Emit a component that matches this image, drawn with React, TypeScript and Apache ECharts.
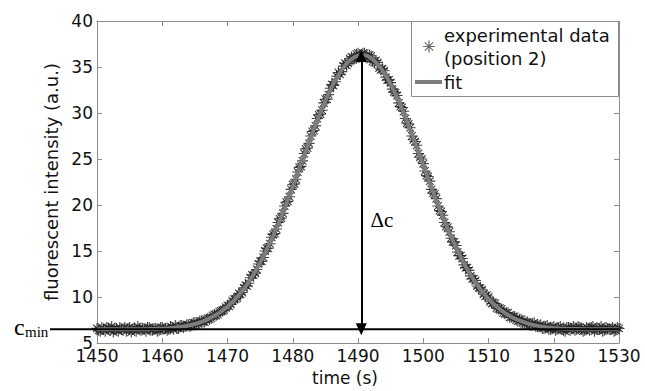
import React, { useEffect, useRef } from "react";
import * as echarts from "echarts";

// ---- axis ----
const X_MIN = 1450;
const X_MAX = 1530;
const X_STEP = 10;
const Y_MIN = 5;
const Y_MAX = 40;
const Y_STEP = 5;

// ---- experimental data, part A (every 0.5 s starting at 1450 s) ----
const EXP_A_T0 = 1450;
const EXP_DT = 0.5;
const EXP_A_VALUES = [
  6.6, 6.3, 6.5, 6.7, 6.4, 6.2, 6.6, 6.7, 6.4, 6.3,
  6.7, 6.5, 6.3, 6.6, 6.6, 6.3, 6.7, 6.4, 6.6, 6.4,
  6.7, 6.6, 6.5, 6.7, 6.9, 6.6, 6.9, 6.8, 7.0, 6.9,
  7.2, 7.1, 7.4, 7.3, 7.7, 7.7, 8.1, 8.1, 8.5, 8.6,
  9.1, 9.2, 9.8, 9.9, 10.3, 11.0, 11.2, 12.1, 12.4, 13.0,
  13.9, 14.3, 15.3, 15.8, 16.8, 17.4, 18.5, 19.1, 20.3, 20.9,
  22.2, 22.8, 24.1, 24.8, 26.1, 26.7, 28.0, 28.6, 29.8, 30.3,
  31.5, 32.0, 33.1, 33.4, 34.4, 34.5, 35.4, 35.4, 36.1, 35.9,
  36.5, 36.1, 36.5, 36.0, 36.2, 35.5, 35.5, 34.7, 34.6, 33.6,
  33.3, 32.3, 31.9, 30.7, 30.2, 28.9, 28.4, 27.1, 26.5, 25.2,
  24.5, 23.2, 22.6, 21.3, 20.7, 19.4, 18.9, 17.7, 17.1, 16.0,
  15.6, 14.5, 14.2, 13.2, 12.9, 12.0, 11.8, 11.0, 10.8, 10.1,
  10.0, 9.3, 9.3, 8.7, 8.7, 8.2, 8.3, 7.8, 7.9, 7.4,
  7.6, 7.1, 7.3, 6.9, 7.2, 6.8, 7.0, 6.6, 6.9, 6.5,
  6.8, 6.5, 6.8, 6.4, 6.7, 6.4, 6.8, 6.5, 6.7, 6.3,
  6.7, 6.4, 6.8, 6.5, 6.6, 6.3, 6.7, 6.5, 6.7, 6.4,
  6.6,
];

// ---- experimental data, part B (every 0.5 s starting at 1450.25 s) ----
const EXP_B_T0 = 1450.25;
const EXP_B_VALUES = [
  6.4, 6.7, 6.3, 6.6, 6.8, 6.5, 6.3, 6.5, 6.7, 6.6,
  6.2, 6.6, 6.8, 6.4, 6.5, 6.7, 6.4, 6.6, 6.3, 6.7,
  6.5, 6.4, 6.8, 6.5, 6.6, 6.9, 6.7, 7.0, 6.8, 7.2,
  7.0, 7.4, 7.3, 7.6, 7.6, 8.0, 8.0, 8.4, 8.5, 8.9,
  9.0, 9.6, 9.8, 10.4, 10.5, 11.3, 11.5, 12.4, 12.6, 13.6,
  13.9, 15.0, 15.3, 16.5, 16.9, 18.1, 18.6, 19.9, 20.4, 21.7,
  22.3, 23.6, 24.2, 25.6, 26.2, 27.5, 28.1, 29.4, 29.9, 31.1,
  31.5, 32.7, 33.0, 34.0, 34.2, 35.1, 35.2, 35.9, 35.8, 36.4,
  36.1, 36.5, 36.0, 36.3, 35.6, 35.7, 34.9, 34.8, 33.9, 33.6,
  32.6, 32.2, 31.1, 30.6, 29.4, 28.8, 27.5, 26.9, 25.6, 25.0,
  23.7, 23.1, 21.7, 21.2, 19.9, 19.3, 18.1, 17.6, 16.4, 16.0,
  14.9, 14.5, 13.5, 13.2, 12.3, 12.0, 11.2, 11.0, 10.3, 10.2,
  9.5, 9.4, 8.8, 8.8, 8.3, 8.3, 7.8, 7.9, 7.5, 7.6,
  7.2, 7.3, 7.0, 7.1, 6.8, 6.9, 6.6, 6.8, 6.5, 6.7,
  6.4, 6.7, 6.5, 6.3, 6.7, 6.6, 6.4, 6.8, 6.5, 6.4,
  6.6, 6.7, 6.3, 6.5, 6.8, 6.4, 6.6, 6.5, 6.3, 6.7,
];

// ---- fitted curve (every 1 s starting at 1450 s) ----
const FIT_T0 = 1450;
const FIT_DT = 1;
const FIT_VALUES = [
  6.50, 6.50, 6.50, 6.50, 6.50, 6.50, 6.50, 6.50, 6.52, 6.54,
  6.57, 6.62, 6.69, 6.78, 6.91, 7.08, 7.31, 7.60, 7.96, 8.41,
  8.97, 9.65, 10.44, 11.39, 12.48, 13.73, 15.13, 16.67, 18.33, 20.13,
  22.00, 23.94, 25.89, 27.80, 29.64, 31.34, 32.86, 34.14, 35.16, 35.85,
  36.24, 36.27, 35.97, 35.31, 34.36, 33.13, 31.67, 30.00, 28.19, 26.28,
  24.34, 22.40, 20.51, 18.69, 16.98, 15.42, 13.99, 12.72, 11.60, 10.63,
  9.81, 9.12, 8.54, 8.06, 7.68, 7.38, 7.13, 6.95, 6.80, 6.70,
  6.63, 6.58, 6.55, 6.53, 6.52, 6.51, 6.50, 6.50, 6.50, 6.50,
  6.50,
];

// ---- annotations ----
const C_MIN = 6.5;
const PEAK_T = 1490.5;
const PEAK_V = 36.2;
const DELTA_LABEL_AT = [1491.9, 18.4];

const LEGEND_LABELS = ["experimental data", "(position 2)", "fit"];

const STAR_PATH =
  "M9,0L11,0L11,20L9,20Z M0,9L20,9L20,11L0,11Z M3.7,2.3L17.7,16.3L16.3,17.7L2.3,3.7Z M17.7,3.7L3.7,17.7L2.3,16.3L16.3,2.3Z";

let registered = false;
function ensureShape() {
  if (registered) return;
  echarts.graphic.registerShape("asterisk", echarts.graphic.extendPath(STAR_PATH, {}) as any);
  registered = true;
}

const SANS = "DejaVu Sans";
const SERIF = "Liberation Serif";
const AXIS_GRAY = "#8c8c8c";

export default function App() {
  const ref = useRef<HTMLDivElement>(null);

  useEffect(() => {
    if (!ref.current) return;
    ensureShape();
    const chart = echarts.init(ref.current, null, { renderer: "svg" });

    const expData = [
      ...EXP_A_VALUES.map((v, i) => [EXP_A_T0 + i * EXP_DT, v]),
      ...EXP_B_VALUES.map((v, i) => [EXP_B_T0 + i * EXP_DT, v]),
    ];
    const fitData = FIT_VALUES.map((v, i) => [FIT_T0 + i * FIT_DT, v]);

    const axisCommon = {
      axisLine: { show: true, lineStyle: { color: AXIS_GRAY, width: 1 } },
      axisTick: { show: true, inside: true, length: 5, lineStyle: { color: AXIS_GRAY } },
      splitLine: { show: false },
    };

    const option: any = {
      animation: false,
      backgroundColor: "#ffffff",
      grid: { left: 97, right: 26, top: 21, bottom: 45, containLabel: false },
      xAxis: [
        {
          type: "value",
          min: X_MIN,
          max: X_MAX,
          interval: X_STEP,
          position: "bottom",
          ...axisCommon,
          axisLabel: {
            color: "#111",
            fontFamily: SANS,
            fontSize: 17,
            margin: 4,
            formatter: (v: number) => String(v),
          },
          name: "time (s)",
          nameLocation: "middle",
          nameGap: 23,
          nameTextStyle: { color: "#111", fontFamily: SANS, fontSize: 17, padding: [0, 26, 0, 0] },
        },
        {
          type: "value",
          min: X_MIN,
          max: X_MAX,
          interval: X_STEP,
          position: "top",
          ...axisCommon,
          axisLabel: { show: false },
        },
      ],
      yAxis: [
        {
          type: "value",
          min: Y_MIN,
          max: Y_MAX,
          interval: Y_STEP,
          position: "left",
          ...axisCommon,
          axisLabel: { color: "#111", fontFamily: SANS, fontSize: 17, margin: 4 },
          name: "fluorescent intensity (a.u.)",
          nameLocation: "middle",
          nameGap: 24,
          nameTextStyle: { color: "#111", fontFamily: SANS, fontSize: 18 },
        },
        {
          type: "value",
          min: Y_MIN,
          max: Y_MAX,
          interval: Y_STEP,
          position: "right",
          ...axisCommon,
          axisLabel: { show: false },
        },
      ],
      series: [
        {
          name: "experimental data (position 2)",
          type: "scatter",
          data: expData,
          symbol: "path://" + STAR_PATH,
          symbolSize: 11,
          itemStyle: { color: "#1e1e1e", opacity: 0.85 },
          z: 2,
        },
        {
          name: "fit",
          type: "line",
          data: fitData,
          symbol: "none",
          smooth: 0.2,
          lineStyle: { color: "#7d7d7d", width: 4 },
          z: 3,
          markLine: {
            silent: true,
            symbol: ["triangle", "triangle"],
            symbolSize: [11, 12],
            label: { show: false },
            lineStyle: { color: "#000", width: 2, type: "solid" },
            data: [
              [
                { coord: [PEAK_T, C_MIN] },
                { coord: [PEAK_T, PEAK_V] },
              ],
            ],
            z: 5,
          },
        },
      ],
    };

    chart.setOption(option);

    const [xRight, yC] = chart.convertToPixel({ gridIndex: 0 }, [X_MAX, C_MIN]) as number[];
    const [xD, yD] = chart.convertToPixel({ gridIndex: 0 }, DELTA_LABEL_AT) as number[];

    chart.setOption({
      graphic: [
        {
          type: "line",
          shape: { x1: 50, y1: yC, x2: xRight, y2: yC },
          style: { stroke: "#000", lineWidth: 2 },
          z: 50,
        },
        {
          type: "text",
          x: 14,
          y: yC - 2,
          style: { text: "c", fontFamily: SERIF, fontSize: 24, fill: "#000", verticalAlign: "middle" },
          z: 50,
        },
        {
          type: "text",
          x: 25,
          y: yC + 3,
          style: { text: "min", fontFamily: SERIF, fontSize: 15, fill: "#000", verticalAlign: "middle" },
          z: 50,
        },
        {
          type: "text",
          x: xD,
          y: yD,
          style: { text: "\u0394c", fontFamily: SERIF, fontSize: 21, fill: "#000", verticalAlign: "middle" },
          z: 50,
        },
        // legend box
        {
          type: "rect",
          shape: { x: 411.5, y: 21.5, width: 207, height: 75 },
          style: { fill: "#fff", stroke: AXIS_GRAY, lineWidth: 1 },
          z: 100,
        },
        {
          type: "asterisk",
          x: 423,
          y: 40.5,
          scaleX: 0.6,
          scaleY: 0.6,
          style: { fill: "#6a6a6a" },
          z: 101,
        },
        {
          type: "text",
          x: 444,
          y: 35,
          style: { text: LEGEND_LABELS[0], fontFamily: SANS, fontSize: 18, fill: "#111", verticalAlign: "middle" },
          z: 101,
        },
        {
          type: "text",
          x: 444,
          y: 58,
          style: { text: LEGEND_LABELS[1], fontFamily: SANS, fontSize: 18, fill: "#111", verticalAlign: "middle" },
          z: 101,
        },
        {
          type: "line",
          shape: { x1: 415, y1: 82, x2: 442, y2: 82 },
          style: { stroke: "#7d7d7d", lineWidth: 4 },
          z: 101,
        },
        {
          type: "text",
          x: 444,
          y: 82,
          style: { text: LEGEND_LABELS[2], fontFamily: SANS, fontSize: 18, fill: "#111", verticalAlign: "middle" },
          z: 101,
        },
      ],
    });

    return () => chart.dispose();
  }, []);

  return (
    <div
      ref={ref}
      style={{ position: "fixed", left: 0, top: 0, width: 645, height: 391, background: "#fff" }}
    />
  );
}
